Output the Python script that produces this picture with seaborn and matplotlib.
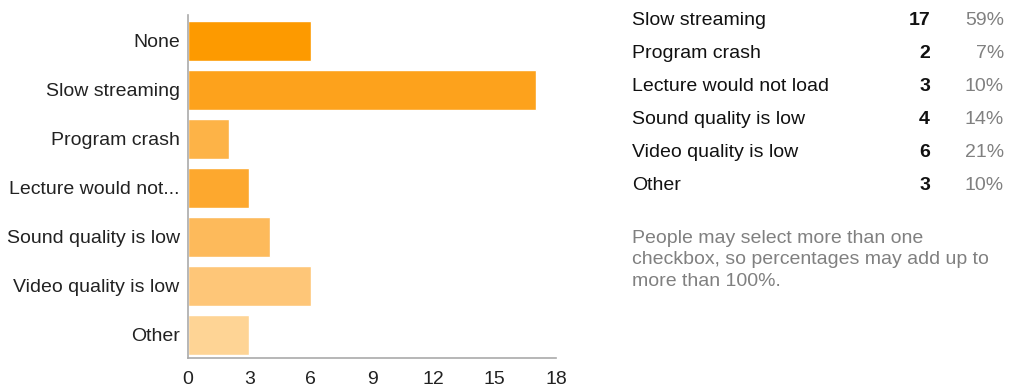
import matplotlib
matplotlib.use("Agg")
import matplotlib.pyplot as plt
import seaborn as sns
import pandas as pd

categories = ["None", "Slow streaming", "Program crash", "Lecture would not load",
              "Sound quality is low", "Video quality is low", "Other"]
tick_labels = ["None", "Slow streaming", "Program crash", "Lecture would not...",
               "Sound quality is low", "Video quality is low", "Other"]
counts = [6, 17, 2, 3, 4, 6, 3]
bar_colors = ["#FD9A00", "#FDA21C", "#FDB347", "#FDA82E", "#FDBA5B", "#FEC678", "#FED495"]

table_labels = ["Slow streaming", "Program crash", "Lecture would not load",
                "Sound quality is low", "Video quality is low", "Other"]
table_counts = [17, 2, 3, 4, 6, 3]
table_pcts = ["59%", "7%", "10%", "14%", "21%", "10%"]
note_lines = ["People may select more than one",
              "checkbox, so percentages may add up to",
              "more than 100%."]

sns.set_style("white")
plt.rcParams["font.family"] = ["Liberation Sans", "DejaVu Sans"]

df = pd.DataFrame({"category": categories, "count": counts})

fig = plt.figure(figsize=(10.14, 3.88), dpi=100)
ax = fig.add_axes([188 / 1014, 1 - 358 / 388, (556 - 188) / 1014, (358 - 15) / 388])

sns.barplot(data=df, y="category", x="count", hue="category", palette=bar_colors,
            order=categories, hue_order=categories, orient="h", width=0.81,
            legend=False, ax=ax, saturation=1)

ax.set_xlim(0, 18)
ax.set_ylim(6.47, -0.53)
ax.set_xticks(range(0, 19, 3))
ax.set_yticks(range(len(categories)))
ax.set_yticklabels(tick_labels)
ax.set_xlabel("")
ax.set_ylabel("")
for s in ["top", "right"]:
    ax.spines[s].set_visible(False)
for s in ["left", "bottom"]:
    ax.spines[s].set_color("#AAAAAA")
    ax.spines[s].set_linewidth(1.2)
ax.tick_params(axis="both", which="both", colors="#AAAAAA", labelcolor="#222222",
               labelsize=14, length=5, width=1, direction="out")
ax.tick_params(axis="y", length=4, pad=2)
ax.tick_params(axis="x", pad=4)

# Summary table
y0 = 20.5
step = 33
for i, (lab, c, p) in enumerate(zip(table_labels, table_counts, table_pcts)):
    y = 1 - (y0 + i * step) / 388
    fig.text(632 / 1014, y, lab, fontsize=14, color="#111111", va="center", ha="left")
    fig.text(930 / 1014, y, str(c), fontsize=14, color="#111111", va="center", ha="right",
             fontweight="bold")
    fig.text(1004 / 1014, y, p, fontsize=14, color="#808080", va="center", ha="right")

for j, line in enumerate(note_lines):
    fig.text(632 / 1014, 1 - (238 + j * 22) / 388, line, fontsize=14, color="#808080",
             va="center", ha="left")

fig.savefig("out.png", dpi=100)
